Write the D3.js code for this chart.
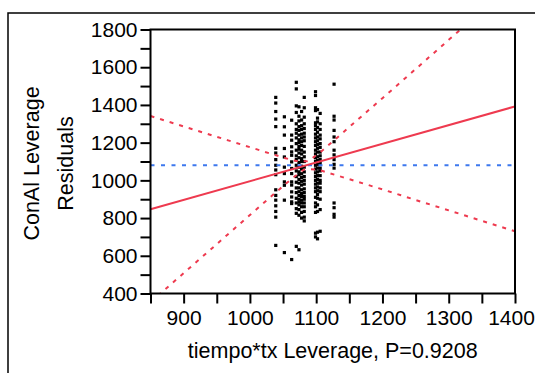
<!DOCTYPE html>
<html>
<head>
<meta charset="utf-8">
<script src="https://cdn.jsdelivr.net/npm/d3@7"></script>
<style>
  body { margin: 0; background: #fff; }
  svg text { font-family: "Liberation Sans", Arial, sans-serif; fill: #000; }
</style>
</head>
<body>
<div id="chart"></div>
<script>
// datos
const xTicks = [850, 900, 950, 1000, 1050, 1100, 1150, 1200, 1250, 1300, 1350, 1400];
const xTickLabels = ["900", "1000", "1100", "1200", "1300", "1400"];
const yTicks = [400, 500, 600, 700, 800, 900, 1000, 1100, 1200, 1300, 1400, 1500, 1600, 1700, 1800];
const yTickLabels = ["400", "600", "800", "1000", "1200", "1400", "1600", "1800"];

// columnas de puntos (x) y sus residuos (y)
const colX = [1039, 1052, 1063, 1070, 1074, 1078, 1082, 1099, 1102, 1106, 1127];
const colY = [
  [1440, 1410, 1365, 1325, 1285, 1170, 1145, 1110, 1080, 1055, 1030, 950, 920, 895, 865, 835, 805, 655],
  [1337, 1284, 1240, 1169, 1124, 1070, 1036, 992, 974, 895, 617],
  [1319, 1240, 1213, 1178, 1151, 1133, 1098, 1063, 1036, 992, 975, 939, 912, 886, 877, 580],
  [1520, 1485, 1395, 1360, 1300, 1270, 1250, 1225, 1195, 1160, 1130, 1110, 1080, 1050, 1020, 990, 960, 935, 905, 880, 850, 825, 650],
  [1390, 1340, 1315, 1285, 1265, 1240, 1215, 1200, 1180, 1165, 1145, 1120, 1095, 1070, 1045, 1030, 1005, 985, 960, 940, 920, 900, 885, 870, 845, 815, 632],
  [1365, 1320, 1290, 1270, 1245, 1225, 1205, 1185, 1160, 1140, 1115, 1100, 1075, 1060, 1035, 1015, 995, 975, 950, 930, 915, 895, 880, 860, 830, 800],
  [1440, 1385, 1335, 1300, 1275, 1250, 1230, 1210, 1180, 1150, 1125, 1100, 1070, 1045, 1020, 1000, 980, 955, 935, 915, 900, 880, 860, 835, 805, 785],
  [1470, 1450, 1385, 1370, 1305, 1290, 1270, 1245, 1225, 1205, 1185, 1160, 1140, 1120, 1100, 1080, 1060, 1040, 1020, 1000, 980, 960, 940, 910, 880, 860, 830, 720, 700],
  [1375, 1330, 1310, 1280, 1255, 1230, 1210, 1190, 1170, 1150, 1125, 1105, 1085, 1065, 1045, 1025, 1005, 985, 965, 945, 925, 905, 870, 835, 725, 690],
  [1355, 1300, 1270, 1240, 1220, 1195, 1175, 1150, 1130, 1110, 1090, 1065, 1050, 1025, 1000, 985, 960, 940, 900, 845, 730],
  [1510, 1340, 1320, 1265, 1230, 1205, 1160, 1135, 1110, 1085, 1065, 880, 855, 820, 805]
];

// recta ajustada, media y curvas de confianza
const fitX = [850, 1400];
const fitY = [847, 1392];
const meanY = 1080;
const bandX = [850, 900, 950, 1000, 1050, 1070, 1085, 1100, 1120, 1150, 1200, 1250, 1300, 1350, 1400];
const upperY = [1341, 1286, 1231, 1176, 1122, 1103, 1101, 1133, 1191, 1283, 1436, 1590, 1745, 1899, 2054];
const lowerY = [353, 508, 662, 816, 969, 1027, 1059, 1057, 1038, 1006, 952, 896, 841, 785, 730];

const width = 535;
const height = 373;
const red = "#ee3a4f";
const blue = "#3d78ee";

const svg = d3.select("#chart")
    .append("svg")
    .attr("width", width)
    .attr("height", height);

// marco exterior
svg.append("rect")
    .attr("x", 8).attr("y", 13)
    .attr("width", 560).attr("height", 400)
    .attr("fill", "none")
    .attr("stroke", "#000")
    .attr("stroke-width", 1.5);

const x = d3.scaleLinear().domain([850, 1400]).range([150.5, 515]);
const y = d3.scaleLinear().domain([400, 1800]).range([293.5, 29.5]);

svg.append("clipPath").attr("id", "clip")
    .append("rect")
    .attr("x", x(850)).attr("y", y(1800))
    .attr("width", x(1400) - x(850)).attr("height", y(400) - y(1800));

const plot = svg.append("g").attr("clip-path", "url(#clip)");

// puntos
const points = [];
colX.forEach((cx, i) => colY[i].forEach(v => points.push([cx, v])));

plot.selectAll(".pt")
    .data(points)
    .enter()
    .append("rect")
    .attr("class", "pt")
    .attr("x", d => x(d[0]) - 1.6)
    .attr("y", d => y(d[1]) - 1.6)
    .attr("width", 3.2)
    .attr("height", 3.2)
    .attr("fill", "#000");

// linea media
plot.append("line")
    .attr("x1", x(850)).attr("x2", x(1400))
    .attr("y1", y(meanY)).attr("y2", y(meanY))
    .attr("stroke", blue)
    .attr("stroke-width", 2)
    .attr("stroke-dasharray", "4,6.5");

// curvas de confianza
const band = d3.line()
    .x(d => x(d[0]))
    .y(d => y(d[1]))
    .curve(d3.curveMonotoneX);

[upperY, lowerY].forEach(arr => {
    plot.append("path")
        .attr("d", band(bandX.map((v, i) => [v, arr[i]])))
        .attr("fill", "none")
        .attr("stroke", red)
        .attr("stroke-width", 2)
        .attr("stroke-dasharray", "4,6");
});

// recta ajustada
plot.append("line")
    .attr("x1", x(fitX[0])).attr("x2", x(fitX[1]))
    .attr("y1", y(fitY[0])).attr("y2", y(fitY[1]))
    .attr("stroke", red)
    .attr("stroke-width", 2);

// ejes
const yAxis = d3.axisLeft(y)
    .tickValues(yTicks)
    .tickSize(10)
    .tickPadding(3)
    .tickFormat(d => yTickLabels.includes(String(d)) ? String(d) : "");

const xAxis = d3.axisBottom(x)
    .tickValues(xTicks)
    .tickSize(10)
    .tickPadding(7)
    .tickFormat(d => xTickLabels.includes(String(d)) ? String(d) : "");

const gy = svg.append("g")
    .attr("transform", `translate(${x(850)},0)`)
    .call(yAxis);
const gx = svg.append("g")
    .attr("transform", `translate(0,${y(400)})`)
    .call(xAxis);

[gx, gy].forEach(g => {
    g.select(".domain").remove();
    g.selectAll(".tick line").attr("stroke", "#000").attr("stroke-width", 2);
    g.selectAll(".tick text")
        .style("font-size", "21px")
        .attr("fill", "#000");
});

// la ultima etiqueta se corre un poco para que quepa
gx.selectAll(".tick text")
    .filter(d => d === 1400)
    .attr("x", -4);

// caja del grafico
svg.append("rect")
    .attr("x", x(850)).attr("y", y(1800))
    .attr("width", x(1400) - x(850))
    .attr("height", y(400) - y(1800))
    .attr("fill", "none")
    .attr("stroke", "#000")
    .attr("stroke-width", 2);

// titulos
svg.append("text")
    .attr("x", (x(850) + x(1400)) / 2)
    .attr("y", 358)
    .attr("text-anchor", "middle")
    .style("font-size", "21.5px")
    .text("tiempo*tx Leverage, P=0.9208");

const yt = svg.append("text")
    .attr("transform", `translate(0,${(y(400) + y(1800)) / 2 + 2}) rotate(-90)`)
    .attr("text-anchor", "middle")
    .style("font-size", "21.5px");
yt.append("tspan").attr("x", 0).attr("y", 39).text("ConAl Leverage");
yt.append("tspan").attr("x", 0).attr("y", 73).text("Residuals");
</script>
</body>
</html>
